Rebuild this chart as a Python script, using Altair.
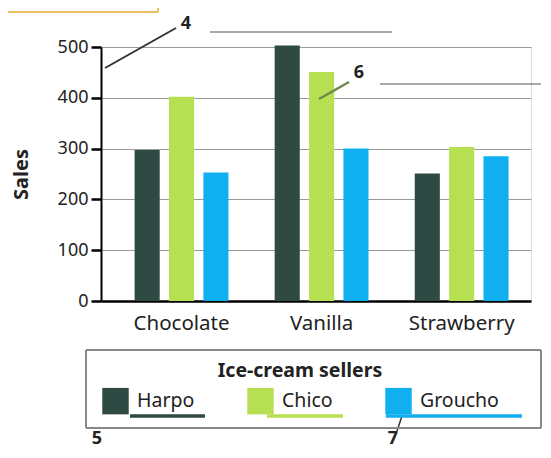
import altair as alt
import pandas as pd

flavors = ["Chocolate", "Vanilla", "Strawberry"]
sellers = ["Harpo", "Chico", "Groucho"]
harpo = [297, 503, 251]
chico = [402, 451, 303]
groucho = [253, 300, 285]
colors = ["#2f4a43", "#b6e052", "#10b0f0"]
y_ticks = [0, 100, 200, 300, 400, 500]

rows = []
for i, f in enumerate(flavors):
    for s, vals in zip(sellers, [harpo, chico, groucho]):
        rows.append({"flavor": f, "seller": s, "sales": vals[i]})
df = pd.DataFrame(rows)

FONT = "Noto Sans"

bars = alt.Chart(df).mark_bar().encode(
    x=alt.X("flavor:N", sort=flavors,
            scale=alt.Scale(paddingInner=0.33, paddingOuter=0.2, align=0.6),
            axis=alt.Axis(title=None, labelAngle=0, labelFontSize=20.5, ticks=False,
                          domainColor="black", domainWidth=2.5, labelPadding=12,
                          labelColor="#222")),
    xOffset=alt.XOffset("seller:N", sort=sellers,
                        scale=alt.Scale(paddingInner=0.27, paddingOuter=0)),
    y=alt.Y("sales:Q", scale=alt.Scale(domain=[0, 500], nice=False),
            axis=alt.Axis(values=y_ticks, title="Sales", titleFontSize=20,
                          titleFontWeight="bold", titleColor="#222", labelFontSize=18,
                          labelColor="#222", tickSize=10, tickWidth=2.5, tickColor="black",
                          domainColor="black", domainWidth=2, gridColor="#9a9a9a",
                          titlePadding=26, labelPadding=3)),
    color=alt.Color("seller:N", sort=sellers,
                    scale=alt.Scale(domain=sellers, range=colors),
                    legend=alt.Legend(orient="none", legendX=-12, legendY=302,
                                      direction="horizontal", title="Ice-cream sellers",
                                      titleFontSize=19.5, titleFontWeight="bold",
                                      titleAnchor="middle", titleColor="#222",
                                      symbolType="square", symbolSize=700,
                                      symbolStrokeWidth=0, symbolOpacity=1,
                                      labelFontSize=19.5, labelOffset=8, labelColor="#222",
                                      columnPadding=52, padding=13,
                                      titlePadding=6)),
)

# textbook call-out annotations (pixel positions relative to plot origin)
ann_labels = ["4", "6", "5", "7"]
ann_x = [85, 258, -4, 292]
ann_y = [-23, 26, 392, 392]
lines = [  # x1, y1, x2, y2, color, width
    (4, 21, 75, -19, "#333", 2),
    (109, -15, 291, -15, "#555", 1.2),
    (279, 37, 440, 37, "#555", 1.2),
    (218, 52, 248, 35, "#6a8a4a", 2.5),
    (301, 369, 296, 384, "#333", 1.5),
    (29, 369, 104, 369, colors[0], 3.5),
    (166, 369, 242, 369, colors[1], 3.5),
    (285, 369, 421, 369, colors[2], 3.5),
    (-93, -35, 57, -35, "#e8c060", 2),
    (57, -39, 57, -35, "#e8c060", 2),
    # legend frame
    (-15, 303, 440, 303, "#888", 2),
    (-15, 381, 440, 381, "#888", 2),
    (-15, 303, -15, 381, "#888", 2),
    (440, 303, 440, 381, "#888", 2),
]

one = pd.DataFrame({"k": [0]})
layers = [bars]
for t, x, y in zip(ann_labels, ann_x, ann_y):
    layers.append(alt.Chart(one).mark_text(fontSize=18, fontWeight="bold", color="#222",
                                           font=FONT).encode(
        x=alt.value(x), y=alt.value(y), text=alt.value(t)))
for x1, y1, x2, y2, c, w in lines:
    layers.append(alt.Chart(one).mark_rule(color=c, strokeWidth=w).encode(
        x=alt.value(x1), y=alt.value(y1), x2=alt.value(x2), y2=alt.value(y2)))

chart = alt.layer(*layers).properties(
    width=430, height=254,
    autosize=alt.AutoSizeParams(type="none"),
    padding={"left": 93, "top": 39, "right": 12, "bottom": 148},
).configure_view(stroke=None).configure(font=FONT)

chart.save("out.html", embed_options={"renderer": "svg", "actions": False})
